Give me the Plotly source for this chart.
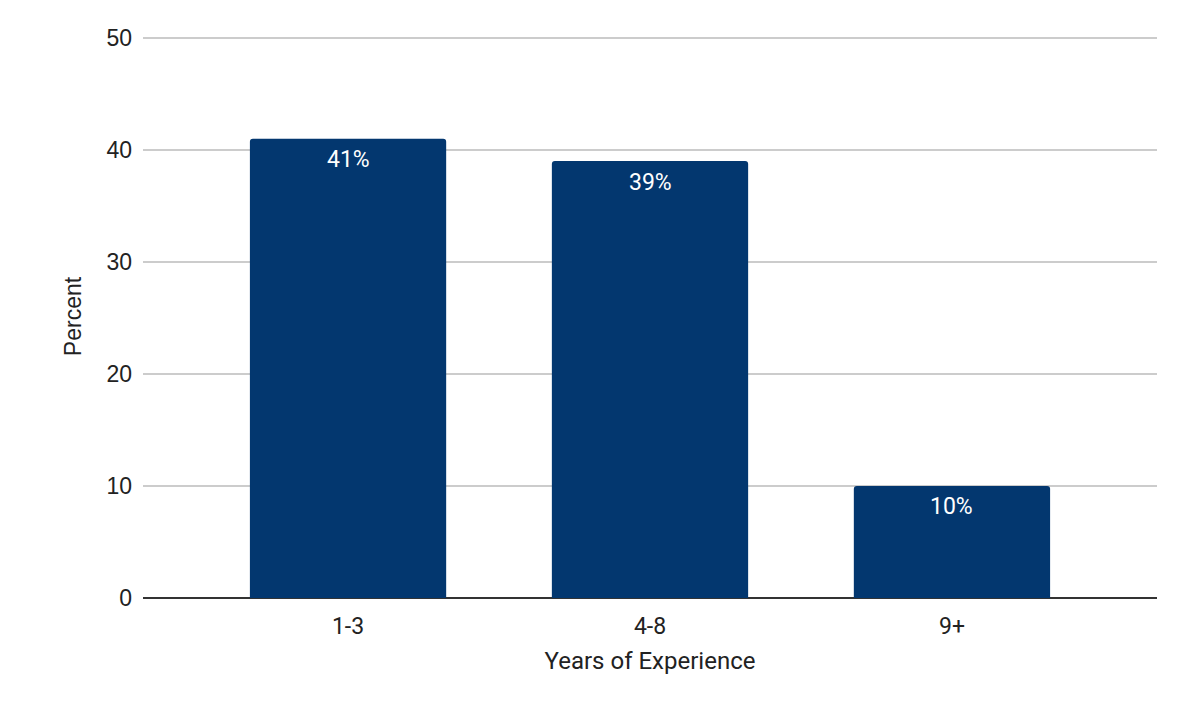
import plotly.graph_objects as go

categories = ["1-3", "4-8", "9+"]
percents = [41, 39, 10]
bar_labels = ["41%", "39%", "10%"]
y_ticks = [0, 10, 20, 30, 40, 50]

bar_color = "#03376f"
roboto = "Roboto, Arial, sans-serif"
arial = "Arial, 'Liberation Sans', sans-serif"

fig = go.Figure()

fig.add_trace(
    go.Bar(
        x=[0, 1, 2],
        y=percents,
        marker=dict(color=bar_color, line=dict(width=0), cornerradius=3),
        width=0.65,
        hoverinfo="skip",
    )
)

# value labels sit just inside the top of each bar
for i, (val, label) in enumerate(zip(percents, bar_labels)):
    fig.add_annotation(
        x=i,
        y=val,
        text=label,
        showarrow=False,
        yanchor="middle",
        yshift=-21,
        font=dict(color="white", size=23, family=roboto),
    )

# page body adds 8px, so margins are shifted to keep the plot area in place
fig.update_layout(
    width=1186,
    height=726,
    margin=dict(l=135, r=37, t=27, b=136),
    paper_bgcolor="white",
    plot_bgcolor="white",
    showlegend=False,
    font=dict(family=roboto, size=23, color="#222222"),
    xaxis=dict(
        range=[-0.679, 2.679],
        tickmode="array",
        tickvals=[0, 1, 2],
        ticktext=categories,
        tickfont=dict(family=roboto, size=23, color="#222222"),
        showgrid=False,
        zeroline=False,
        showline=False,
        ticks="",
        ticklabelstandoff=12,
        automargin=False,
        title=dict(text="Years of Experience", standoff=13,
                   font=dict(family=roboto, size=24, color="#222222")),
    ),
    yaxis=dict(
        range=[0, 50.25],
        tickmode="array",
        tickvals=y_ticks,
        tickfont=dict(family=arial, size=23, color="#222222"),
        showgrid=True,
        gridcolor="#cccccc",
        gridwidth=1.5,
        zeroline=True,
        zerolinecolor="#333333",
        zerolinewidth=2,
        showline=False,
        ticks="",
        ticklabelstandoff=10,
        automargin=False,
        title=dict(text="Percent", standoff=18,
                   font=dict(family=arial, size=23, color="#222222")),
    ),
)

fig.write_html("out.html")
